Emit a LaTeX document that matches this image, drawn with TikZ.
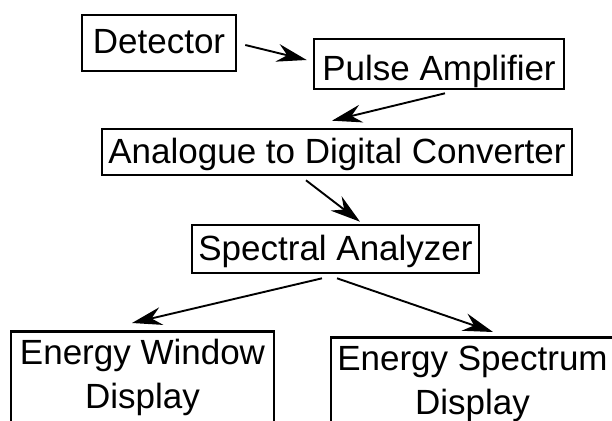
\documentclass[tikz,border=0pt]{standalone}
\usepackage{fontspec}
\setmainfont{Liberation Sans}
\usetikzlibrary{arrows.meta}

\tikzset{
  block/.style={draw=black, line width=2.6pt, inner sep=0pt, align=center,
    font=\fontsize{35}{44}\selectfont},
  th/.style 2 args={text height=#1, text depth=#2},
  arr/.style={line width=1.9pt, -{Stealth[length=30pt, width=18pt, inset=10pt]}},
}

\begin{document}
\begin{tikzpicture}[x=1pt, y=-1pt]
  \useasboundingbox (0,0) rectangle (612,420);

  % processing chain
  \node[block, minimum width=154pt, minimum height=56pt, th={35pt}{15pt}] (det) at (159,43) {Detector};
  \node[block, minimum width=250pt, minimum height=50pt, th={41pt}{9pt}] (pa) at (439,64) {Pulse Amplifier};
  \node[block, minimum width=470pt, minimum height=46pt, th={30pt}{8pt}] (adc) at (337,152) {Analogue to Digital Converter};
  \node[block, minimum width=287pt, minimum height=48pt, th={30pt}{8pt}] (sa) at (335.5,249) {Spectral Analyzer};

  % displays, running off the bottom edge
  \node[block, anchor=north, minimum width=263pt, inner ysep=8pt] (win) at (142.5,330)
    {Energy Window\\Display\rule[-30pt]{0pt}{0pt}};
  \node[block, anchor=north, minimum width=283pt, inner ysep=9pt] (spec) at (472.5,336)
    {Energy Spectrum\\Display\rule[-30pt]{0pt}{0pt}};

  % signal flow
  \draw[arr] ([xshift=8pt, yshift=-2pt]det.east) -- ([xshift=-6pt, yshift=4pt]pa.west);
  \draw[arr] ([xshift=6pt, yshift=-3pt]pa.south) -- ([xshift=-5pt, yshift=7pt]adc.north);
  \draw[arr] ([xshift=-31pt, yshift=-4pt]adc.south) -- ([xshift=24.5pt, yshift=2pt]sa.north);
  \draw[arr] ([xshift=-13.5pt, yshift=-4pt]sa.south) -- ([xshift=-10.5pt, yshift=7pt]win.north);
  \draw[arr] ([xshift=1.5pt, yshift=-4pt]sa.south) -- ([xshift=20.5pt, yshift=4pt]spec.north);
\end{tikzpicture}
\end{document}
